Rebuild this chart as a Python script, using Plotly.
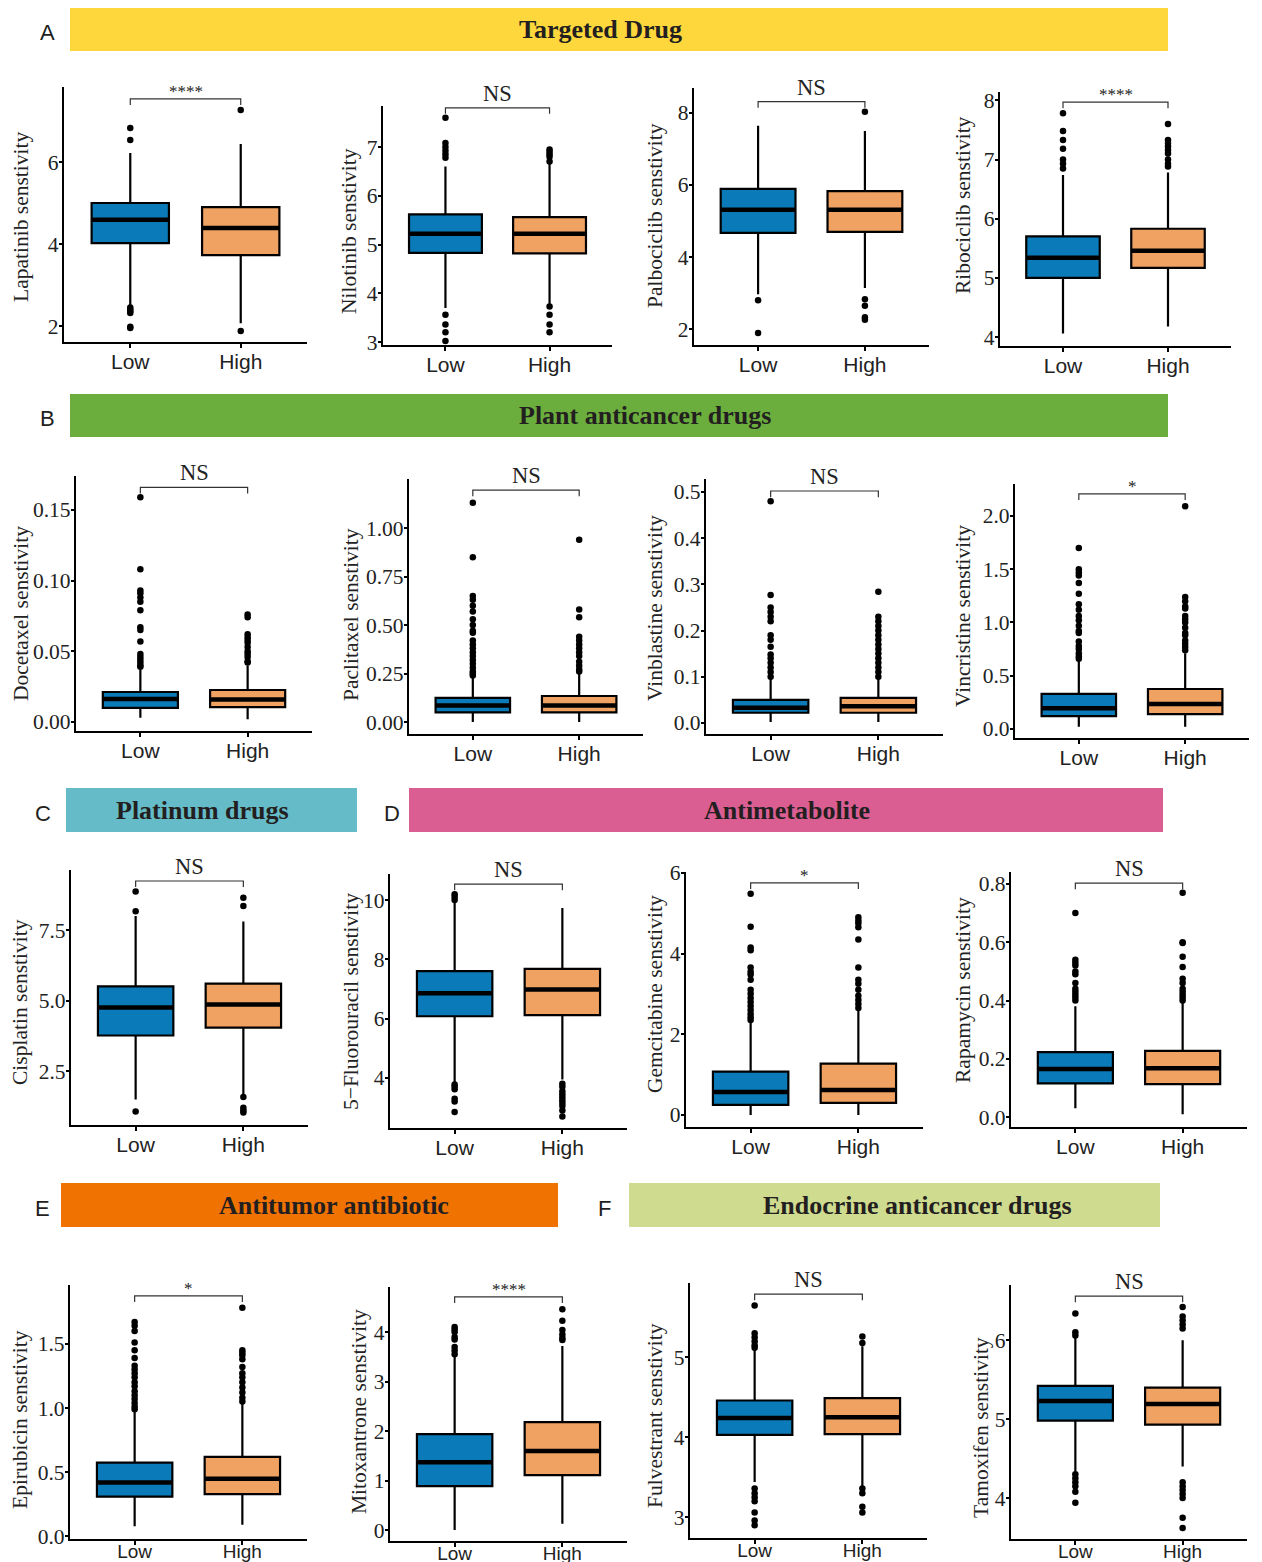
import plotly.graph_objects as go

W, H = 1262, 1562
groups = ["Low", "High"]

# ---------------- data ----------------
drugs = ["Lapatinib", "Nilotinib", "Palbociclib", "Ribociclib",
         "Docetaxel", "Paclitaxel", "Vinblastine", "Vincristine",
         "Cisplatin", "5\u2212Fluorouracil", "Gemcitabine", "Rapamycin",
         "Epirubicin", "Mitoxantrone", "Fulvestrant", "Tamoxifen"]
signif = ["****", "NS", "NS", "****",
          "NS", "NS", "NS", "*",
          "NS", "NS", "*", "NS",
          "*", "****", "NS", "NS"]

# Low group box statistics
low_q1 = [4.02, 4.83, 4.67, 5.00, 0.0099, 0.050, 0.022, 0.12, 3.76, 6.08, 0.25, 0.116, 0.31, 0.89, 4.03, 4.98]
low_med = [4.59, 5.22, 5.31, 5.34, 0.0163, 0.085, 0.033, 0.195, 4.75, 6.86, 0.57, 0.165, 0.42, 1.37, 4.24, 5.23]
low_q3 = [5.00, 5.62, 5.89, 5.70, 0.0212, 0.124, 0.050, 0.33, 5.50, 7.60, 1.07, 0.223, 0.574, 1.94, 4.46, 5.42]
low_lo = [2.51, 3.70, 2.97, 4.06, 0.003, 0.0, 0.002, 0.02, 1.49, 3.86, 0.0, 0.03, 0.08, 0.0, 3.44, 4.34]
low_hi = [6.22, 6.60, 7.64, 6.74, 0.037, 0.23, 0.096, 0.64, 8.00, 9.90, 2.30, 0.38, 0.97, 3.50, 5.09, 6.04]
# High group box statistics
high_q1 = [3.73, 4.82, 4.70, 5.17, 0.0105, 0.050, 0.022, 0.14, 4.04, 6.12, 0.30, 0.113, 0.33, 1.11, 4.04, 4.93]
high_med = [4.39, 5.22, 5.31, 5.46, 0.0158, 0.085, 0.036, 0.235, 4.86, 6.98, 0.62, 0.168, 0.45, 1.60, 4.25, 5.19]
high_q3 = [4.90, 5.56, 5.83, 5.83, 0.0226, 0.134, 0.054, 0.375, 5.60, 7.68, 1.27, 0.227, 0.62, 2.18, 4.49, 5.40]
high_lo = [2.07, 3.77, 3.14, 4.18, 0.002, 0.0, 0.002, 0.02, 1.67, 3.95, 0.0, 0.01, 0.09, 0.13, 3.38, 4.40]
high_hi = [6.44, 6.65, 7.50, 6.78, 0.040, 0.25, 0.097, 0.71, 7.80, 9.73, 2.60, 0.395, 1.04, 3.72, 5.14, 6.00]

low_out = [
    [6.83, 6.54, 2.45, 2.40, 2.36, 2.32, 1.98, 1.95],
    [7.60, 7.08, 7.00, 6.92, 6.85, 6.78, 3.56, 3.36, 3.20, 3.02],
    [2.80, 1.89],
    [7.78, 7.48, 7.33, 7.18, 7.00, 6.93, 6.85],
    [0.159, 0.108, 0.093, 0.091, 0.088, 0.085, 0.079, 0.067, 0.065, 0.057, 0.048, 0.046, 0.044, 0.042, 0.040, 0.039],
    [1.13, 0.85, 0.65, 0.63, 0.60, 0.57, 0.53, 0.50, 0.47, 0.46, 0.42, 0.40, 0.38, 0.36, 0.34, 0.32, 0.30, 0.28, 0.26, 0.25, 0.24],
    [0.48, 0.277, 0.25, 0.24, 0.23, 0.22, 0.19, 0.18, 0.165, 0.148, 0.14, 0.13, 0.12, 0.11, 0.10],
    [1.70, 1.50, 1.47, 1.44, 1.37, 1.27, 1.17, 1.12, 1.06, 1.02, 0.97, 0.92, 0.90, 0.82, 0.78, 0.75, 0.71, 0.68, 0.66],
    [8.87, 8.17, 1.06],
    [10.2, 10.1, 10.0, 3.78, 3.70, 3.62, 3.30, 3.20, 2.85],
    [5.48, 4.66, 4.15, 4.08, 3.65, 3.55, 3.48, 3.35, 3.10, 3.00, 2.90, 2.80, 2.70, 2.60, 2.50, 2.42, 2.35],
    [0.70, 0.54, 0.53, 0.52, 0.50, 0.49, 0.46, 0.44, 0.43, 0.42, 0.41, 0.40],
    [1.67, 1.64, 1.60, 1.51, 1.45, 1.39, 1.33, 1.30, 1.27, 1.24, 1.20, 1.17, 1.13, 1.10, 1.07, 1.04, 1.01, 0.99],
    [4.10, 4.05, 4.00, 3.90, 3.85, 3.70, 3.63, 3.55],
    [5.65, 5.30, 5.25, 5.20, 5.15, 5.12, 3.36, 3.30, 3.25, 3.20, 3.06, 2.96, 2.90],
    [6.34, 6.10, 6.06, 4.30, 4.25, 4.20, 4.15, 4.08, 3.94],
]
high_out = [
    [7.27, 1.88],
    [6.95, 6.90, 6.85, 6.80, 6.70, 3.73, 3.56, 3.36, 3.20],
    [8.03, 2.83, 2.65, 2.33, 2.26],
    [7.60, 7.33, 7.28, 7.22, 7.16, 7.10, 7.00, 6.93, 6.88],
    [0.076, 0.074, 0.062, 0.060, 0.058, 0.056, 0.053, 0.050, 0.048, 0.046, 0.043, 0.042],
    [0.94, 0.58, 0.54, 0.44, 0.42, 0.40, 0.38, 0.36, 0.34, 0.31, 0.29, 0.27, 0.26],
    [0.284, 0.23, 0.22, 0.21, 0.20, 0.19, 0.18, 0.17, 0.16, 0.15, 0.14, 0.13, 0.12, 0.11, 0.10],
    [2.09, 1.24, 1.20, 1.15, 1.13, 1.06, 1.03, 1.00, 0.95, 0.90, 0.88, 0.83, 0.80, 0.77, 0.74],
    [8.65, 8.35, 1.58, 1.20, 1.10, 1.03],
    [3.80, 3.70, 3.55, 3.45, 3.35, 3.25, 3.15, 3.05, 2.90, 2.70],
    [4.90, 4.82, 4.75, 4.65, 4.35, 3.65, 3.35, 3.25, 3.10, 2.95, 2.85, 2.75, 2.65],
    [0.77, 0.60, 0.597, 0.55, 0.515, 0.475, 0.46, 0.44, 0.43, 0.42, 0.41, 0.40],
    [1.78, 1.45, 1.43, 1.41, 1.38, 1.32, 1.27, 1.24, 1.20, 1.16, 1.12, 1.08, 1.05],
    [4.46, 4.23, 4.04, 3.95, 3.88, 3.84],
    [5.26, 5.18, 3.36, 3.30, 3.13, 3.06],
    [6.42, 6.30, 6.25, 6.20, 6.15, 4.20, 4.15, 4.10, 4.05, 4.00, 3.75, 3.62],
]

bracket_y = [7.54, 7.80, 8.31, 7.97, 0.166, 1.196, 0.502, 2.207,
             9.24, 10.54, 5.75, 0.803, 1.873, 4.71, 5.79, 6.56]

y_ticks = [[2, 4, 6], [3, 4, 5, 6, 7], [2, 4, 6, 8], [4, 5, 6, 7, 8],
           [0, 0.05, 0.10, 0.15], [0, 0.25, 0.5, 0.75, 1.0], [0, 0.1, 0.2, 0.3, 0.4, 0.5], [0, 0.5, 1.0, 1.5, 2.0],
           [2.5, 5.0, 7.5], [4, 6, 8, 10], [0, 2, 4, 6], [0, 0.2, 0.4, 0.6, 0.8],
           [0, 0.5, 1.0, 1.5], [0, 1, 2, 3, 4], [3, 4, 5], [4, 5, 6]]
y_fmt = ["d", "d", "d", "d", ".2f", ".2f", ".1f", ".1f",
         ".1f", "d", "d", ".1f", ".1f", "d", "d", "d"]

banner_titles = ["Targeted Drug", "Plant anticancer drugs", "Platinum drugs",
                 "Antimetabolite", "Antitumor antibiotic", "Endocrine anticancer drugs"]
banner_letters = ["A", "B", "C", "D", "E", "F"]

# ---------------- layout (pixels) ----------------
# panel axis frame: x0, x1, ytop, ybottom
frames = [
    (64, 307, 87, 342), (383, 612, 106, 345), (694, 929, 88, 345), (1000, 1231, 92, 346),
    (76, 312, 476, 731), (409, 643, 479, 734), (706, 943, 479, 734), (1015, 1249, 484, 738),
    (71, 308, 870, 1125), (390, 627, 874, 1128), (686, 923, 872, 1127), (1011, 1247, 872, 1127),
    (70, 307, 1285, 1539), (390, 627, 1287, 1541), (690, 927, 1283, 1538), (1011, 1247, 1285, 1539),
]
y_ranges = [
    (1.61, 7.83), (2.94, 7.84), (1.56, 8.69), (3.85, 8.14),
    (-0.0064, 0.174), (-0.062, 1.253), (-0.024, 0.528), (-0.085, 2.30),
    (0.585, 9.63), (2.31, 10.88), (-0.30, 6.02), (-0.034, 0.841),
    (-0.02, 1.958), (-0.22, 4.91), (2.74, 5.93), (3.48, 6.70),
]
ytitle_pos = [
    (21, 217), (349, 231), (655, 216), (963, 205),
    (21, 614), (351, 615), (655, 608), (963, 616),
    (20, 1002), (351, 1002), (655, 994), (963, 990),
    (20, 1420), (359, 1412), (655, 1416), (981, 1428),
]
xlabel_standoff = [-4] * 12 + [-10] * 4
xlabel_size = [21] * 12 + [19] * 4
banners = [  # x0, x1, y0, y1, text centre x, letter x, colour
    (70, 1168, 8, 51, 600, 47, "#FDD73C"),
    (70, 1168, 394, 437, 645, 47, "#6BAE3D"),
    (66, 357, 788, 832, 202, 43, "#65BCC8"),
    (409, 1163, 788, 832, 787, 392, "#DB5E93"),
    (61, 558, 1183, 1227, 334, 42, "#F07200"),
    (629, 1160, 1183, 1227, 917, 604, "#CFDB8F"),
]

BLUE = "#0A7BB8"
ORANGE = "#EFA262"
SERIF = "Liberation Serif, Times New Roman, serif"
SANS = "Liberation Sans, Arial, sans-serif"


def px(x):
    return x / W


def py(y):
    return 1 - y / H


fig = go.Figure()
shapes = []
annotations = []
layout_axes = {}

for i in range(16):
    n = i + 1
    xa = "x" if n == 1 else f"x{n}"
    ya = "y" if n == 1 else f"y{n}"
    x0, x1, yt, yb = frames[i]
    span = y_ranges[i][1] - y_ranges[i][0]

    stats = [
        (low_q1[i], low_med[i], low_q3[i], low_lo[i], low_hi[i], low_out[i], BLUE),
        (high_q1[i], high_med[i], high_q3[i], high_lo[i], high_hi[i], high_out[i], ORANGE),
    ]
    for k, (q1, med, q3, lo, hi, out, col) in enumerate(stats):
        g = groups[k]
        fig.add_trace(go.Box(
            x=[g], q1=[q1], median=[med], q3=[q3], lowerfence=[lo], upperfence=[hi],
            fillcolor=col, line=dict(color="black", width=2.2), width=0.7,
            whiskerwidth=0, boxpoints=False, orientation="v",
            xaxis=xa, yaxis=ya, showlegend=False, hoverinfo="skip"))
        fig.add_trace(go.Scatter(
            x=[g] * len(out), y=out, mode="markers",
            marker=dict(color="black", size=6.5),
            xaxis=xa, yaxis=ya, showlegend=False, hoverinfo="skip"))
        shapes.append(dict(type="line", xref=xa, yref=ya, x0=k - 0.35, x1=k + 0.35,
                           y0=med, y1=med, line=dict(color="black", width=4.5), layer="above"))

    b = bracket_y[i]
    d = 0.024 * span
    fig.add_trace(go.Scatter(
        x=[groups[0], groups[0], groups[1], groups[1]], y=[b - d, b, b, b - d],
        mode="lines", line=dict(color="#333333", width=1.2),
        xaxis=xa, yaxis=ya, showlegend=False, hoverinfo="skip"))
    is_star = "*" in signif[i]
    annotations.append(dict(
        x=0.5, y=b, xref=xa, yref=ya, text=signif[i], showarrow=False,
        yanchor="bottom", yshift=-4 if is_star else 0,
        font=dict(family=SERIF, size=17 if is_star else 22.5, color="#222222")))

    # y-axis title
    tx, ty = ytitle_pos[i]
    annotations.append(dict(
        x=px(tx), y=py(ty), xref="paper", yref="paper",
        text=f"{drugs[i]} senstivity", textangle=-90, showarrow=False,
        xanchor="center", yanchor="middle",
        font=dict(family=SERIF, size=21.5, color="#222222")))

    key_x = "xaxis" if n == 1 else f"xaxis{n}"
    key_y = "yaxis" if n == 1 else f"yaxis{n}"
    layout_axes[key_x] = dict(
        domain=[px(x0), px(x1)], anchor=ya, type="category", automargin=False,
        categoryorder="array", categoryarray=groups, range=[-0.6, 1.6],
        showline=True, linecolor="black", linewidth=2.2,
        ticks="outside", ticklen=4, tickwidth=1.5, tickcolor="black",
        ticklabelstandoff=xlabel_standoff[i],
        tickfont=dict(family=SANS, size=xlabel_size[i], color="#222222"),
        showgrid=False, zeroline=False, fixedrange=True)
    layout_axes[key_y] = dict(
        domain=[py(yb), py(yt)], anchor=xa, range=list(y_ranges[i]), automargin=False,
        tickvals=y_ticks[i], tickformat=y_fmt[i],
        showline=True, linecolor="black", linewidth=2.2,
        ticks="outside", ticklen=3, tickwidth=1.5, tickcolor="black",
        ticklabelstandoff=-4,
        tickfont=dict(family=SERIF, size=21.5, color="#222222"),
        showgrid=False, zeroline=False, fixedrange=True)

for j, (bx0, bx1, by0, by1, tcx, lx, col) in enumerate(banners):
    shapes.append(dict(type="rect", xref="paper", yref="paper",
                       x0=px(bx0), x1=px(bx1), y0=py(by1), y1=py(by0),
                       fillcolor=col, line=dict(width=0), layer="below"))
    annotations.append(dict(
        x=px(tcx), y=py((by0 + by1) / 2), xref="paper", yref="paper",
        text=f"<b>{banner_titles[j]}</b>", showarrow=False,
        xanchor="center", yanchor="middle",
        font=dict(family=SERIF, size=26, color="#231F20")))
    annotations.append(dict(
        x=px(lx), y=py((by0 + by1) / 2 + 3), xref="paper", yref="paper",
        text=banner_letters[j], showarrow=False,
        xanchor="center", yanchor="middle",
        font=dict(family=SANS, size=22, color="#231F20")))

fig.update_layout(
    width=W, height=H, autosize=False,
    margin=dict(l=0, r=0, t=0, b=0, pad=0, autoexpand=False),
    paper_bgcolor="white", plot_bgcolor="white",
    showlegend=False, shapes=shapes, annotations=annotations,
    **layout_axes)

fig.write_html(
    "out.html",
    config={"displayModeBar": False},
    post_script=("document.body.style.margin='0';"
                 "document.body.style.overflow='hidden';"
                 "var gd=document.getElementById('{plot_id}');"
                 "gd.style.position='fixed';gd.style.top='0px';gd.style.left='0px';"))
